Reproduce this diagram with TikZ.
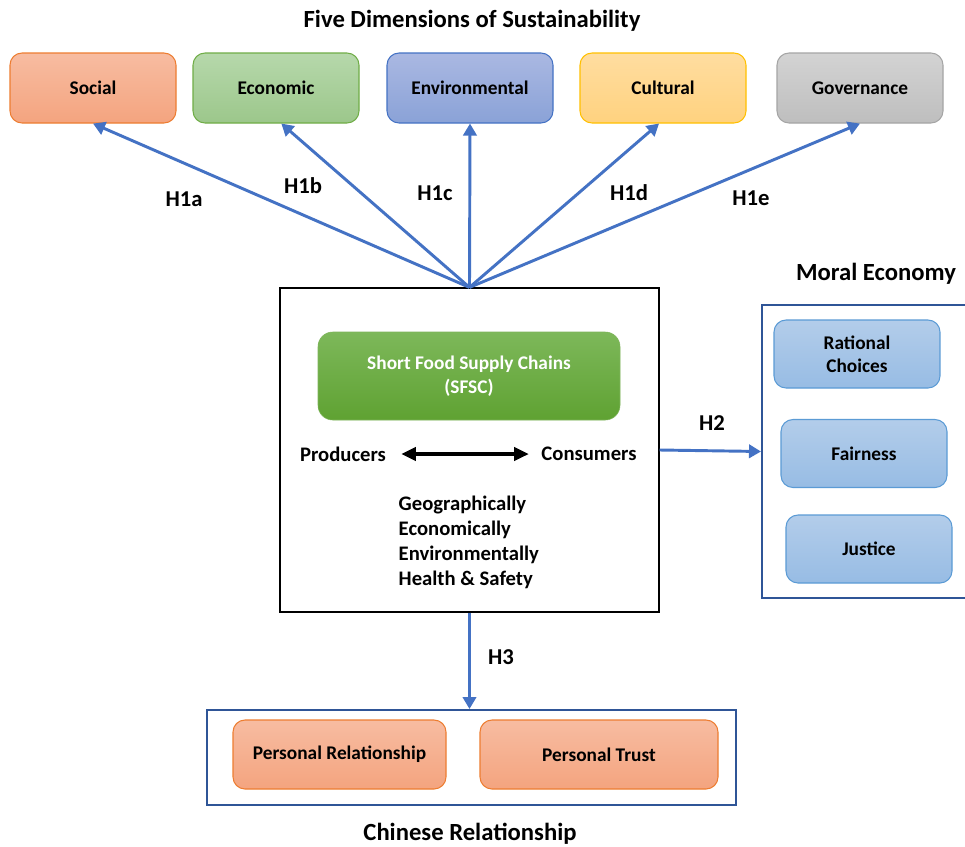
\documentclass[tikz,border=0pt]{standalone}
\usepackage{fontspec}
\setmainfont{Carlito}
\usetikzlibrary{arrows.meta}
\definecolor{arrowblue}{HTML}{4472C4}
\definecolor{frameblue}{HTML}{2F5597}
\definecolor{socT}{HTML}{F7BCA1}\definecolor{socB}{HTML}{F4A47F}\definecolor{socD}{HTML}{ED7D31}
\definecolor{ecoT}{HTML}{B6D8AB}\definecolor{ecoB}{HTML}{9CC78B}\definecolor{ecoD}{HTML}{70AD47}
\definecolor{envT}{HTML}{AAB8E2}\definecolor{envB}{HTML}{8AA2D7}\definecolor{envD}{HTML}{4472C4}
\definecolor{culT}{HTML}{FFDDA0}\definecolor{culB}{HTML}{FFD27F}\definecolor{culD}{HTML}{FFC000}
\definecolor{govT}{HTML}{D3D3D3}\definecolor{govB}{HTML}{BEBEBE}\definecolor{govD}{HTML}{A5A5A5}
\definecolor{sfT}{HTML}{7DB85A}\definecolor{sfB}{HTML}{5FA232}
\definecolor{morT}{HTML}{B3CDEA}\definecolor{morB}{HTML}{97BCE4}\definecolor{morD}{HTML}{5B9BD5}
\begin{document}
\begin{tikzpicture}[x=0.75pt,y=-0.75pt,
  lbl/.style={font=\bfseries\fontsize{15.5}{18}\selectfont, text=black},
  hlbl/.style={font=\bfseries\fontsize{17}{20}\selectfont, text=black},
  ttl/.style={font=\bfseries\fontsize{18.5}{22}\selectfont, text=black},
  dimbox/.style={rounded corners=9pt, line width=0.8pt, minimum width=124.5pt, minimum height=52.5pt,
    font=\bfseries\fontsize{14.5}{17}\selectfont, align=center},
  morbox/.style={rounded corners=9pt, line width=0.8pt, draw=morD, top color=morT, bottom color=morB,
    minimum width=124.5pt, minimum height=51pt, font=\bfseries\fontsize{14.5}{17}\selectfont, align=center},
  crbox/.style={rounded corners=9pt, line width=0.8pt, draw=socD, top color=socT, bottom color=socB,
    minimum height=51.75pt, font=\bfseries\fontsize{14.5}{17}\selectfont, align=center},
  frame/.style={draw=frameblue, line width=1.5pt},
  barrow/.style={draw=arrowblue, line width=2.2pt, -{Triangle[width=10pt,length=9pt]}}
]
\clip (0,0) rectangle (965,847);
\fill[white] (0,0) rectangle (965,847);

% title
\node[ttl] (t1) at (472,21) {Five Dimensions of Sustainability};

% dimension boxes
\node[dimbox, draw=socD, top color=socT, bottom color=socB] (soc) at (93,88) {Social};
\node[dimbox, draw=ecoD, top color=ecoT, bottom color=ecoB] (eco) at (276,88) {Economic};
\node[dimbox, draw=envD, top color=envT, bottom color=envB] (env) at (470,88) {Environmental};
\node[dimbox, draw=culD, top color=culT, bottom color=culB] (cul) at (663,88) {Cultural};
\node[dimbox, draw=govD, top color=govT, bottom color=govB] (gov) at (860,88) {Governance};

% main box
\node[draw=black, line width=0.9pt, minimum width=284.25pt, minimum height=243pt] (main) at (469.5,450) {};
\coordinate (hub) at (main.north);

\node[rounded corners=11pt, top color=sfT, bottom color=sfB, draw=sfB!80!white, line width=0.4pt,
  minimum width=226.5pt, minimum height=66pt, text=white, align=center,
  font=\bfseries\fontsize{14.5}{18}\selectfont] (sfsc) at (469,376) {Short Food Supply Chains\\(SFSC)};

\node[lbl] (prod) at (343,454) {Producers};
\node[lbl] (cons) at (589,454) {Consumers};
\draw[line width=2.4pt, {Triangle[width=10pt,length=11pt]}-{Triangle[width=10pt,length=11pt]},
  shorten <=8pt, shorten >=6pt] (prod.east) -- (cons.west);

\node[lbl, anchor=north west, align=left, font=\bfseries\fontsize{15.5}{18.75}\selectfont] (list) at (394,491)
  {Geographically\\Economically\\Environmentally\\Health \& Safety};

% H1 arrows
\draw[barrow] (hub) -- (soc.south);
\draw[barrow] (hub) -- ([xshift=4]eco.south);
\draw[barrow] (hub) -- (env.south);
\draw[barrow] (hub) -- ([xshift=-3]cul.south);
\draw[barrow] (hub) -- (gov.south);

\node[hlbl] (h1a) at (184,199) {H1a};
\node[hlbl] (h1b) at (303,186) {H1b};
\node[hlbl] (h1c) at (435,193) {H1c};
\node[hlbl] (h1d) at (629,193) {H1d};
\node[hlbl] (h1e) at (751,198) {H1e};

% moral economy
\node[ttl] (met) at (876,274) {Moral Economy};
\node[frame, minimum width=159.75pt, minimum height=219.75pt] (moral) at (868.5,451.5) {};
\node[morbox] (rat) at (857,354) {Rational\\Choices};
\node[morbox] (fair) at (864,453.5) {Fairness};
\node[morbox] (just) at (869,549) {Justice};
\draw[barrow] (main.east) -- (moral.west);
\node[hlbl] (h2) at (712,423) {H2};

% chinese relationship
\node[frame, minimum width=396.75pt, minimum height=71.25pt] (cr) at (471.5,757.5) {};
\node[crbox, minimum width=159.75pt] (pr) at (339.5,754.5) {Personal Relationship};
\node[crbox, minimum width=178.5pt] (pt) at (599,754.5) {Personal Trust};
\draw[barrow] (main.south) -- (main.south |- cr.north);
\node[hlbl] (h3) at (501,657) {H3};
\node[ttl] (crt) at (470,834) {Chinese Relationship};
\end{tikzpicture}
\end{document}
